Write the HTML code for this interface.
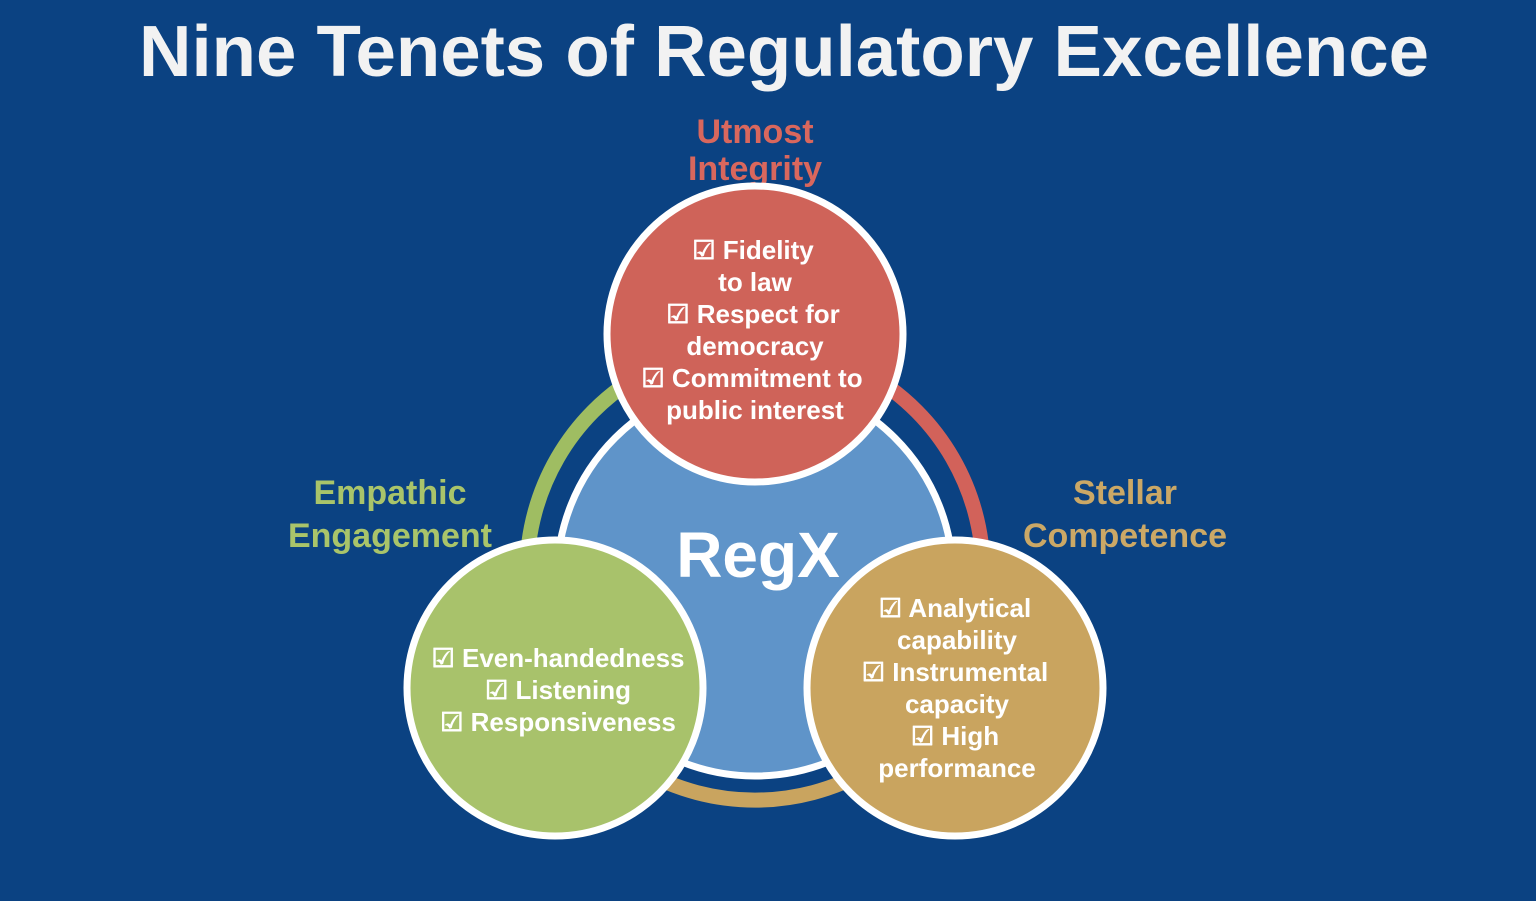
<!DOCTYPE html>
<html><head><meta charset="utf-8"><style>
html,body{margin:0;padding:0;}
body{width:1536px;height:896px;background:#0b4282;overflow:hidden;font-family:"Liberation Sans",sans-serif;}
</style></head><body>
<svg width="1536" height="896" viewBox="0 0 1536 896" xmlns="http://www.w3.org/2000/svg" font-family="Liberation Sans, sans-serif" font-weight="bold">
<rect width="1536" height="896" fill="#0b4282"/>
<text x="784" y="76" font-size="72" fill="#f2f2f2" text-anchor="middle" textLength="1290" lengthAdjust="spacingAndGlyphs">Nine Tenets of Regulatory Excellence</text>
<g font-size="34" text-anchor="middle">
<text x="755" y="143" fill="#d9675d">Utmost</text>
<text x="755" y="180" fill="#d9675d">Integrity</text>
<text x="390" y="504" fill="#a9c46a">Empathic</text>
<text x="390" y="547" fill="#a9c46a">Engagement</text>
<text x="1125" y="504" fill="#cba866">Stellar</text>
<text x="1125" y="547" fill="#cba866">Competence</text>
</g>
<g fill="none" stroke-width="15">
<path d="M 557.5 686 A 228 228 0 0 1 755 344" stroke="#9fbd62"/>
<path d="M 755 344 A 228 228 0 0 1 952.5 686" stroke="#d2625a"/>
<path d="M 952.5 686 A 228 228 0 0 1 557.5 686" stroke="#c9a45f"/>
</g>
<circle cx="755" cy="578" r="198" fill="#5f94c9" stroke="#fff" stroke-width="7"/>
<text x="758" y="577" font-size="64" fill="#fff" text-anchor="middle">RegX</text>
<circle cx="755" cy="334" r="148" fill="#cf6359" stroke="#fff" stroke-width="7"/>
<circle cx="555" cy="688" r="148" fill="#a8c26b" stroke="#fff" stroke-width="7"/>
<circle cx="955" cy="688" r="148" fill="#c9a45f" stroke="#fff" stroke-width="7"/>
<g font-size="26" fill="#fff" text-anchor="middle">
<text x="753" y="259">☑ Fidelity</text>
<text x="755" y="291">to law</text>
<text x="753" y="323">☑ Respect for</text>
<text x="755" y="355">democracy</text>
<text x="752" y="387">☑ Commitment to</text>
<text x="755" y="419">public interest</text>
<text x="558" y="667">☑ Even-handedness</text>
<text x="558" y="699">☑ Listening</text>
<text x="558" y="731">☑ Responsiveness</text>
<text x="955" y="617">☑ Analytical</text>
<text x="957" y="649">capability</text>
<text x="955" y="681">☑ Instrumental</text>
<text x="957" y="713">capacity</text>
<text x="955" y="745">☑ High</text>
<text x="957" y="777">performance</text>
</g>
</svg>
</body></html>
